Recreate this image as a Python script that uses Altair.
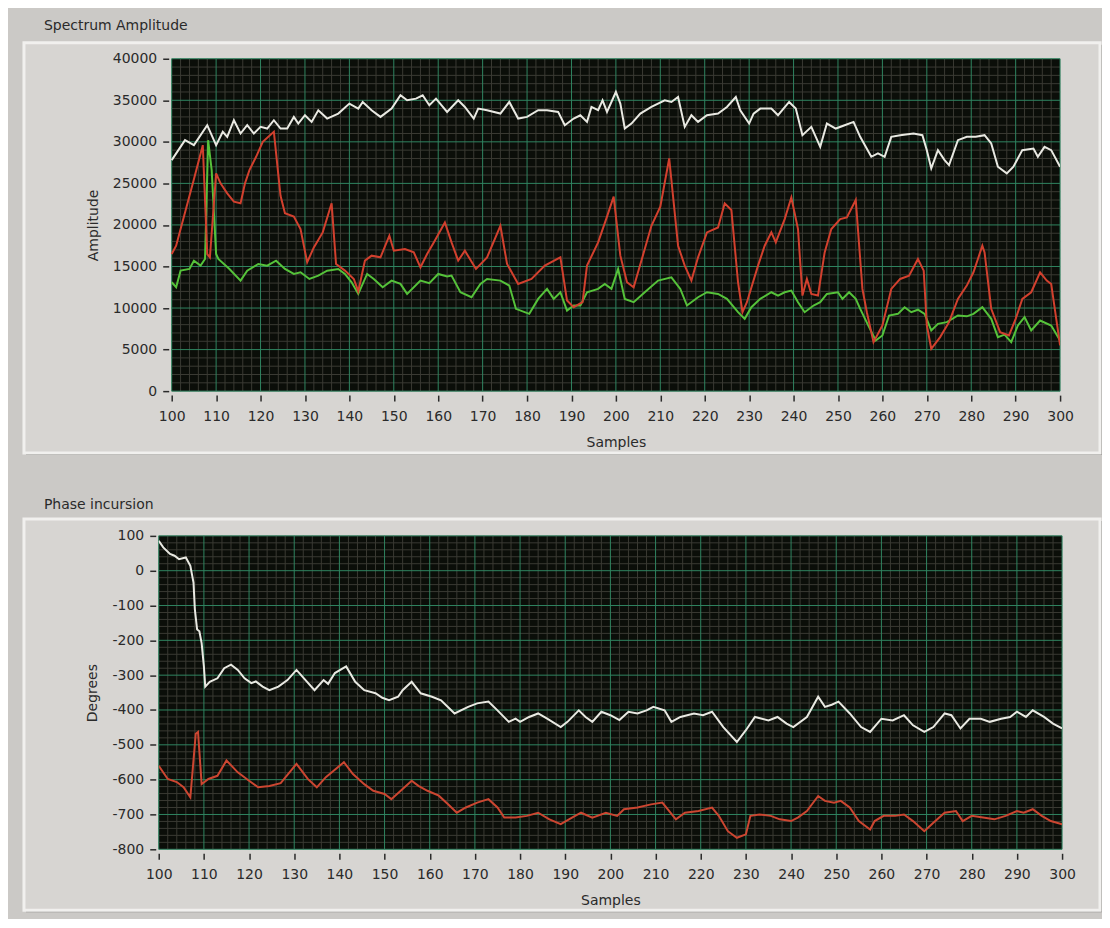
import altair as alt
import pandas as pd

# ---------------- data ----------------
SAMPLE_RANGE = [100, 300]
X_TICKS = list(range(100, 301, 10))
AMP_TICKS = list(range(0, 40001, 5000))
PHASE_TICKS = list(range(-800, 101, 100))

PANEL_TITLES = ["Spectrum Amplitude", "Phase incursion"]
X_TITLE = "Samples"
Y_TITLES = ["Amplitude", "Degrees"]

amp_white_s = [100, 103, 105, 108, 110, 111.5, 112.5, 114, 115.5, 117,
               118.5, 120, 121.5, 123, 124.5, 126, 127.5, 128.5, 130, 131.5,
               133, 135, 137.5, 140, 142, 143, 145, 147, 149.5, 151.5,
               153, 155, 156.5, 158, 159.5, 162, 164.5, 166, 168, 169,
               171, 174, 176, 178, 180, 182.5, 184.5, 187, 188.5, 190.5,
               192, 193.5, 194.5, 196, 197, 198, 200, 201, 202, 203.5,
               205.5, 208, 211, 212.5, 214, 215.5, 217, 218.5, 220.5, 223,
               225, 227, 228, 230, 231, 232.5, 235, 236.5, 239, 240.5,
               242, 244, 246, 247.5, 249.5, 251.5, 253.5, 255, 257.5, 259,
               260.5, 262, 264, 267, 269, 270, 271, 272.5, 274, 275,
               277, 279, 281, 283, 284.5, 286, 288, 289.5, 291.5, 294,
               295, 296.5, 298, 300]
amp_white_v = [27800, 30200, 29600, 32000, 29600, 31200, 30600, 32600, 31000, 32000,
               31000, 31800, 31600, 32600, 31600, 31600, 33000, 32200, 33200, 32400,
               33800, 32800, 33400, 34600, 34000, 34800, 33800, 33000, 34000, 35600,
               35000, 35200, 35600, 34400, 35200, 33600, 35000, 34200, 32800, 34000,
               33800, 33400, 34800, 32800, 33000, 33800, 33800, 33600, 32000, 32800,
               33200, 32400, 34200, 33800, 35000, 33600, 36000, 34600, 31600, 32200,
               33400, 34200, 35000, 34800, 35400, 31800, 33200, 32400, 33200, 33400,
               34200, 35400, 33800, 32200, 33400, 34000, 34000, 33200, 34800, 34000,
               30800, 31800, 29400, 32200, 31600, 32000, 32400, 30600, 28200, 28600,
               28200, 30600, 30800, 31000, 30800, 29000, 26800, 29000, 27800, 27200,
               30200, 30600, 30600, 30800, 29800, 27000, 26200, 27000, 29000, 29200,
               28200, 29400, 29000, 27000]

amp_red_s = [100, 101, 103, 105, 107, 108, 108.6, 110, 111, 112.5,
             114, 115.5, 116.5, 117.5, 119, 120.5, 123, 124.5, 125.5, 127.5,
             129, 130.5, 132, 134, 136, 137, 139, 141, 142, 143.5,
             145, 147, 149, 150, 152.5, 154.5, 156, 157.5, 159, 161.5,
             163, 164.5, 166, 168.5, 171, 174, 175.5, 178, 181, 184,
             187.5, 189, 190.5, 192.5, 193.5, 196, 198, 199.5, 201, 202.5,
             204, 206.5, 208, 210, 212, 214, 215.5, 217, 218.5, 220.5,
             223, 224.5, 226, 227.5, 228.5, 229.5, 232, 233.5, 235, 236,
             238, 239.5, 241, 242, 243, 244, 245.5, 247, 248.5, 250.5,
             252, 254, 255.5, 256.5, 258, 260, 262, 264, 266, 268,
             269.3, 270, 271, 273, 275, 277, 279, 280.5, 282.5, 283,
             284.5, 286.5, 288.5, 290, 291.5, 293.5, 295.5, 297, 298, 300]
amp_red_v = [16500, 17500, 21500, 25500, 29600, 16500, 16100, 26200, 25000, 23800,
             22800, 22600, 25000, 26600, 28200, 30000, 31200, 23500, 21400, 21000,
             19500, 15500, 17300, 19100, 22600, 15300, 14500, 13500, 12000, 15700,
             16300, 16100, 18700, 16900, 17100, 16700, 14900, 16500, 17900, 20300,
             17900, 15700, 16900, 14700, 16100, 19900, 15300, 12900, 13500, 15100,
             16100, 10900, 10100, 10700, 15100, 17900, 21000, 23400, 16300, 13100,
             12500, 17100, 19900, 22200, 28000, 17500, 15100, 13300, 16100, 19100,
             19700, 22600, 21800, 13100, 9500, 10700, 15100, 17500, 19100, 17900,
             20700, 23300, 19500, 11500, 13500, 11700, 11500, 16700, 19500, 20700,
             20900, 23000, 12300, 9500, 5900, 7900, 12300, 13500, 13900, 15900,
             14500, 7900, 5100, 6500, 8300, 11100, 12700, 14300, 17500, 16700,
             9900, 7100, 6700, 8700, 11100, 11900, 14300, 13300, 12900, 5500]

amp_green_s = [100, 101, 102, 104, 105, 106.5, 107.5, 108.2, 109, 110,
               110.5, 113, 115.5, 117, 119.5, 121.5, 123.5, 125.5, 127.5, 129,
               131, 133, 135, 137.5, 139, 140.5, 142, 144, 145.5, 147.5,
               149.5, 151.5, 153, 156, 158, 160, 162, 163, 165, 167.5,
               169.5, 171, 174, 176, 177.5, 180.5, 182.5, 184.5, 186, 187.5,
               189, 190.5, 192, 193.5, 196, 197.5, 199, 200.5, 202, 204,
               206.5, 209.5, 212.5, 214.5, 216, 218.5, 220.5, 223, 225, 227.5,
               229, 230.5, 232.5, 235, 236.5, 238, 239.5, 241, 242.5, 244.5,
               246, 247.5, 250, 251, 252.5, 254, 255, 257, 258.5, 260,
               261.5, 263.5, 265, 266.5, 268, 269.5, 271, 272.5, 274.5, 277,
               279, 280.5, 282.5, 284.5, 286, 287.5, 289, 290.5, 292, 293.5,
               295.5, 298, 300]
amp_green_v = [13100, 12500, 14500, 14700, 15700, 15100, 15900, 30200, 26600, 16500,
               15900, 14700, 13300, 14500, 15300, 15100, 15700, 14700, 14100, 14300,
               13500, 13900, 14500, 14700, 14100, 13100, 11700, 14100, 13500, 12500,
               13300, 12900, 11700, 13300, 13000, 14100, 13800, 13900, 11900, 11300,
               12900, 13500, 13300, 12700, 9900, 9300, 11100, 12300, 11100, 11900,
               9700, 10300, 10300, 11900, 12300, 12900, 12300, 14700, 11100, 10700,
               11900, 13300, 13700, 12300, 10300, 11300, 11900, 11700, 11100, 9500,
               8700, 10100, 11100, 11900, 11500, 11900, 12100, 10700, 9500, 10300,
               10700, 11700, 11900, 11100, 11900, 11100, 9900, 7700, 6100, 6700,
               9100, 9300, 10100, 9500, 9800, 9300, 7300, 8100, 8300, 9100,
               9000, 9300, 10100, 8700, 6500, 6800, 5900, 7900, 8900, 7300,
               8500, 7900, 6100]

phase_white_s = [100, 101, 102.5, 103.5, 104.5, 106, 107, 107.7, 108, 108.5,
                 109, 109.5, 110, 110.3, 111.3, 113, 114.5, 116, 117.5, 119,
                 120.5, 121.5, 123, 124.5, 126.5, 128.5, 130.5, 132.5, 134.5, 136.5,
                 137.5, 139, 141.5, 143.5, 145.5, 148, 149.5, 151, 153, 154,
                 156, 158, 160.5, 162.5, 165.5, 168.5, 170.5, 173, 175, 177.5,
                 179, 180, 182, 184, 186, 189, 190.5, 193, 194.5, 196,
                 198, 200, 202, 204, 206, 208, 209.5, 212, 213.5, 215.5,
                 218.5, 220.5, 222.5, 225, 228, 230, 232, 235, 237, 239,
                 240.5, 243.5, 246, 247.5, 249, 250.5, 253, 255.5, 257.5, 260,
                 262.5, 265, 267, 269.5, 271.5, 274, 275.5, 277.5, 279.5, 282,
                 284, 286.5, 288.5, 290, 292, 293.5, 296, 298, 300]
phase_white_v = [86, 67, 48, 43, 33, 38, 14, -34, -111, -169,
                 -174, -208, -275, -333, -319, -309, -280, -270, -285, -309,
                 -323, -318, -333, -343, -333, -314, -285, -314, -343, -314,
                 -325, -294, -275, -319, -343, -352, -365, -372, -362, -343,
                 -319, -352, -362, -372, -410, -391, -381, -376, -401, -434,
                 -425, -434, -420, -410, -425, -449, -434, -401, -420, -434,
                 -405, -415, -429, -405, -410, -401, -391, -401, -434, -420,
                 -410, -415, -405, -449, -492, -458, -420, -430, -420, -439,
                 -449, -420, -362, -391, -385, -376, -410, -449, -463, -425,
                 -430, -415, -444, -463, -449, -410, -415, -453, -425, -425,
                 -434, -425, -420, -405, -420, -401, -420, -439, -453]

phase_red_s = [100, 102, 104, 105.5, 107, 108.2, 108.7, 109.5, 111, 113,
               115, 117.5, 120, 122, 124.5, 127, 130.5, 133, 135, 137,
               141, 143, 145.5, 147.5, 150, 151.5, 154, 156, 157.5, 159.5,
               162, 164, 166, 168, 170.5, 173, 175, 176.5, 179, 181.5,
               184, 186.5, 189, 191.5, 193.5, 196, 199, 201.5, 203, 206,
               209, 211.5, 214.5, 216.5, 219.5, 222.5, 224, 226, 228, 230,
               231, 233, 235.5, 237.5, 240, 241.5, 243.5, 246, 247.5, 249.5,
               251, 253, 255, 257.5, 258.5, 260.5, 263, 265, 267, 269.5,
               271.5, 274, 276.5, 278, 280, 282.5, 285, 287.5, 290, 291.5,
               293.5, 295.5, 297.5, 300]
phase_red_v = [-560, -598, -607, -622, -651, -468, -463, -613, -598, -589,
               -545, -579, -603, -622, -618, -610, -555, -598, -622, -593,
               -550, -584, -613, -632, -641, -656, -627, -603, -618, -632,
               -646, -670, -695, -680, -666, -656, -680, -709, -709, -704,
               -695, -714, -728, -709, -695, -709, -695, -704, -685, -680,
               -671, -666, -714, -695, -690, -680, -704, -748, -767, -757,
               -704, -700, -704, -714, -719, -709, -690, -647, -661, -666,
               -661, -680, -719, -743, -719, -704, -704, -700, -719, -748,
               -724, -695, -690, -719, -704, -709, -714, -704, -690, -695,
               -685, -704, -719, -728]

# ---------------- styling ----------------
FONT = "DejaVu Sans"
TEXT = "#2a2a2a"
OUTER_BG = "#cbc9c6"
PANEL = "#d7d5d2"
PLOT_BG = "#0b0e09"
MAJOR = "#2f8560"
MINOR = "#3a3a33"


def series_df(s, v):
    assert len(s) == len(v)
    return pd.DataFrame({"s": s, "v": v})


def make_panel(idx, ydomain, yticks, yminor, series, plot_w, height, dx,
               frame, caption_y, y_title_pad):
    """dx shifts the data rectangle right inside the view so that the two
    stacked panels can have different left margins like the original."""
    top, right_ext, bottom = frame
    width = plot_w + dx
    left = -135  # panel left edge relative to the view
    xs = alt.Scale(domain=SAMPLE_RANGE, nice=False, zero=False, range=[dx, width])
    ys = alt.Scale(domain=ydomain, nice=False, zero=False)
    one = pd.DataFrame({"label": [PANEL_TITLES[idx]]})

    x_axis = alt.Axis(values=X_TICKS, title=X_TITLE, grid=False, domain=False,
                      tickSize=6, tickColor=TEXT, tickWidth=1.5, offset=4,
                      labelPadding=8, labelFont=FONT, labelFontSize=14,
                      labelColor=TEXT, titleFont=FONT, titleFontSize=14,
                      titleFontWeight="normal", titleColor=TEXT, titlePadding=12,
                      zindex=1, labelFlush=False, labelOverlap=False, format="d")
    y_axis = alt.Axis(values=yticks, title=Y_TITLES[idx], grid=False, domain=False,
                      tickSize=6, tickColor=TEXT, tickWidth=1.5, offset=3 - dx,
                      labelPadding=6, labelFont=FONT, labelFontSize=14,
                      labelColor=TEXT, titleFont=FONT, titleFontSize=14,
                      titleFontWeight="normal", titleColor=TEXT,
                      titlePadding=y_title_pad,
                      zindex=1, labelFlush=False, labelOverlap=False,
                      labelExpr="datum.value < 0 ? '-' + abs(datum.value) : '' + datum.value")

    shadow = alt.Chart(one).mark_rect(color="#8f8e8b").encode(
        x=alt.value(left + 2), x2=alt.value(width + right_ext + 2),
        y=alt.value(top + 2), y2=alt.value(height + bottom + 2))
    body = alt.Chart(one).mark_rect(color=PANEL, stroke="#f1f0ee", strokeWidth=3).encode(
        x=alt.value(left), x2=alt.value(width + right_ext),
        y=alt.value(top), y2=alt.value(height + bottom))
    caption = alt.Chart(one).mark_text(align="left", baseline="top", font=FONT,
                                       fontSize=14, color=TEXT).encode(
        x=alt.value(left + 20), y=alt.value(caption_y), text="label:N")
    plot_bg = alt.Chart(one).mark_rect(color=PLOT_BG).encode(
        x=alt.value(dx), x2=alt.value(width), y=alt.value(0), y2=alt.value(height))

    x_minor = pd.DataFrame({"g": [v for v in range(100, 301, 2) if v % 10]})
    x_major = pd.DataFrame({"g": X_TICKS})
    y_minor = pd.DataFrame({"g": yminor})
    y_major = pd.DataFrame({"g": yticks})

    vminor = alt.Chart(x_minor).mark_rule(color=MINOR, strokeWidth=1).encode(
        x=alt.X("g:Q", scale=xs, axis=x_axis))
    hminor = alt.Chart(y_minor).mark_rule(color=MINOR, strokeWidth=1).encode(
        y=alt.Y("g:Q", scale=ys, axis=y_axis), x=alt.value(dx), x2=alt.value(width))
    vmajor = alt.Chart(x_major).mark_rule(color=MAJOR, strokeWidth=1).encode(
        x=alt.X("g:Q", scale=xs, axis=x_axis))
    hmajor = alt.Chart(y_major).mark_rule(color=MAJOR, strokeWidth=1).encode(
        y=alt.Y("g:Q", scale=ys, axis=y_axis), x=alt.value(dx), x2=alt.value(width))

    lines = []
    for s, v, color in series:
        lines.append(alt.Chart(series_df(s, v)).mark_line(
            color=color, strokeWidth=2, clip=True).encode(
            x=alt.X("s:Q", scale=xs, axis=x_axis),
            y=alt.Y("v:Q", scale=ys, axis=y_axis)))

    return alt.layer(shadow, body, caption, plot_bg, vminor, hminor, vmajor, hmajor,
                     *lines).properties(width=width, height=height)


top = make_panel(
    0, [0, 40000], AMP_TICKS, [v for v in range(0, 40001, 1000) if v % 5000],
    [(amp_green_s, amp_green_v, "#55c23a"),
     (amp_red_s, amp_red_v, "#d2402e"),
     (amp_white_s, amp_white_v, "#e9e9e2")],
    890, 333, 13, (-16, 40, 62), -40, 12)

bottom = make_panel(
    1, [-800, 100], PHASE_TICKS, [v for v in range(-800, 101, 20) if v % 100],
    [(phase_red_s, phase_red_v, "#cc4631"),
     (phase_white_s, phase_white_v, "#e9e9e2")],
    905, 314, 0, (-17, 38, 61), -38, 13)

chart = alt.concat(top, bottom, columns=1, spacing=43, align="none").configure(
    background=OUTER_BG,
    padding={"left": 14, "top": 10, "right": 0, "bottom": 6},
).configure_view(stroke=None)

chart.save("out.html", embed_options={"renderer": "svg", "actions": False})
